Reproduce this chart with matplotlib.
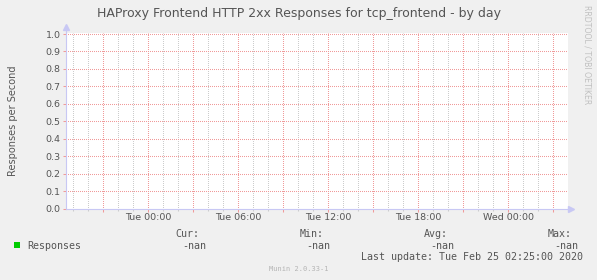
import matplotlib
matplotlib.use("Agg")
import matplotlib.pyplot as plt
import numpy as np
from matplotlib.patches import Rectangle
from matplotlib.ticker import FixedLocator, FuncFormatter

# ---- data ----
title = "HAProxy Frontend HTTP 2xx Responses for tcp_frontend - by day"
ylabel = "Responses per Second"
series_name = "Responses"
times_h = [-5.4, 0.0, 6.0, 12.0, 18.0, 24.0, 27.9]          # hours from Tue 00:00
values = [np.nan, np.nan, np.nan, np.nan, np.nan, np.nan, np.nan]
xtick_pos = [0, 6, 12, 18, 24]
xtick_labels = ["Tue 00:00", "Tue 06:00", "Tue 12:00", "Tue 18:00", "Wed 00:00"]
ytick_vals = [0.0, 0.1, 0.2, 0.3, 0.4, 0.5, 0.6, 0.7, 0.8, 0.9, 1.0]
stat_names = ["Cur:", "Min:", "Avg:", "Max:"]
stat_vals = ["-nan", "-nan", "-nan", "-nan"]
last_update = "Last update: Tue Feb 25 02:25:00 2020"
version = "Munin 2.0.33-1"
watermark = "RRDTOOL / TOBI OETIKER"

plt.rcParams["lines.scale_dashes"] = False

W, H = 597, 280
DPI = 100
BG = "#f0f0f0"
TXT = "#555555"
RED = "#f09a9a"
GREY = "#cccccc"
AXC = "#c8c8f4"
GREEN = "#00cc00"

fig = plt.figure(figsize=(W / DPI, H / DPI), dpi=DPI, facecolor=BG)

def fx(px):
    return px / W

def fy(py):
    return 1 - py / H

ax_left, ax_right, ax_top, ax_bot = 66, 567.5, 32.5, 208.5
ax = fig.add_axes([fx(ax_left), fy(ax_bot), (ax_right - ax_left) / W, (ax_bot - ax_top) / H])
ax.set_facecolor("white")

x0_px = 148.0
px_per_h = 15.0
ax.set_xlim((ax_left - x0_px) / px_per_h, (ax_right - x0_px) / px_per_h)
px_per_unit = (ax_bot - 34.0)
ax.set_ylim(0, (ax_bot - ax_top) / px_per_unit)

ax.plot(times_h, values, color=GREEN, lw=1)

# ticks / grid
major_x = list(range(-3, 28, 3))
minor_x = [h for h in range(-5, 28) if h % 3 != 0]
ax.xaxis.set_major_locator(FixedLocator(major_x))
ax.xaxis.set_minor_locator(FixedLocator(minor_x))
lab = dict(zip(xtick_pos, xtick_labels))
ax.xaxis.set_major_formatter(FuncFormatter(lambda v, p: lab.get(int(round(v)), "")))
ax.yaxis.set_major_locator(FixedLocator(ytick_vals))
ax.yaxis.set_major_formatter(FuncFormatter(lambda v, p: f"{v:.1f}"))

LW = 0.75                      # just over 1 px -> snapped to pixel centres
dot = (0.36, (0.72, 0.72))     # 1 px on / 1 px off (unscaled)
for h in minor_x:
    ax.axvline(h, color=GREY, lw=LW, ls=dot, zorder=1)
for h in major_x:
    ax.axvline(h, color=RED, lw=LW, ls=dot, zorder=2)
for v in ytick_vals[1:]:
    ax.axhline(v, color=RED, lw=LW, ls=dot, zorder=2)

ax.tick_params(axis="x", which="major", direction="out", length=2.2, width=LW,
               color=RED, labelsize=6.8, labelcolor=TXT, pad=1.0)
ax.tick_params(axis="x", which="minor", direction="out", length=1.6, width=LW,
               color=GREY)
ax.tick_params(axis="y", which="major", direction="out", length=2.2, width=LW,
               color=RED, labelsize=6.8, labelcolor=TXT, pad=1.5)
for t in ax.get_xticklabels() + ax.get_yticklabels():
    t.set_family("DejaVu Sans")

for s in ["top", "right"]:
    ax.spines[s].set_visible(False)
for s in ["left", "bottom"]:
    ax.spines[s].set_color(AXC)
    ax.spines[s].set_linewidth(0.8)
    ax.spines[s].set_zorder(5)

# axis arrows
ax.plot([0, 0], [1, 1.03], transform=ax.transAxes, color=AXC, lw=0.8, clip_on=False)
ax.plot([0], [1.03], transform=ax.transAxes, marker="^", ms=4, color=AXC,
        mec=AXC, clip_on=False)
ax.plot([1, 1.006], [0, 0], transform=ax.transAxes, color=AXC, lw=0.8, clip_on=False)
ax.plot([1.006], [0], transform=ax.transAxes, marker=">", ms=4, color=AXC,
        mec=AXC, clip_on=False)

# texts
fig.text(fx(299), fy(14), title, ha="center", va="center", fontsize=9,
         color=TXT, family="DejaVu Sans")
fig.text(fx(13), fy(121), ylabel, ha="center", va="center", rotation=90,
         fontsize=7, color=TXT, family="DejaVu Sans")
fig.text(fx(587), fy(5), watermark, ha="center", va="top", rotation=-90,
         fontsize=5.6, color="#c0c0c0", family="DejaVu Sans")

mono = "DejaVu Sans Mono"
fig.patches.append(Rectangle((fx(14), fy(248)), 6 / W, 6 / H, transform=fig.transFigure,
                             facecolor=GREEN, edgecolor="none"))
fig.text(fx(27), fy(246), series_name, ha="left", va="center", fontsize=7.2,
         color=TXT, family=mono)
name_x = [175, 300, 424, 548]
val_x = [182, 306, 430, 554]
for nx, vx, n, v in zip(name_x, val_x, stat_names, stat_vals):
    fig.text(fx(nx), fy(234), n, ha="left", va="center", fontsize=7.2, color=TXT, family=mono)
    fig.text(fx(vx), fy(246), v, ha="left", va="center", fontsize=7.2, color=TXT, family=mono)
fig.text(fx(361), fy(257), last_update, ha="left", va="center", fontsize=7.2,
         color=TXT, family=mono)
fig.text(fx(269), fy(269), version, ha="left", va="center", fontsize=5,
         color="#b4b4b4", family=mono)

fig.savefig("out.png", dpi=DPI, facecolor=BG)
